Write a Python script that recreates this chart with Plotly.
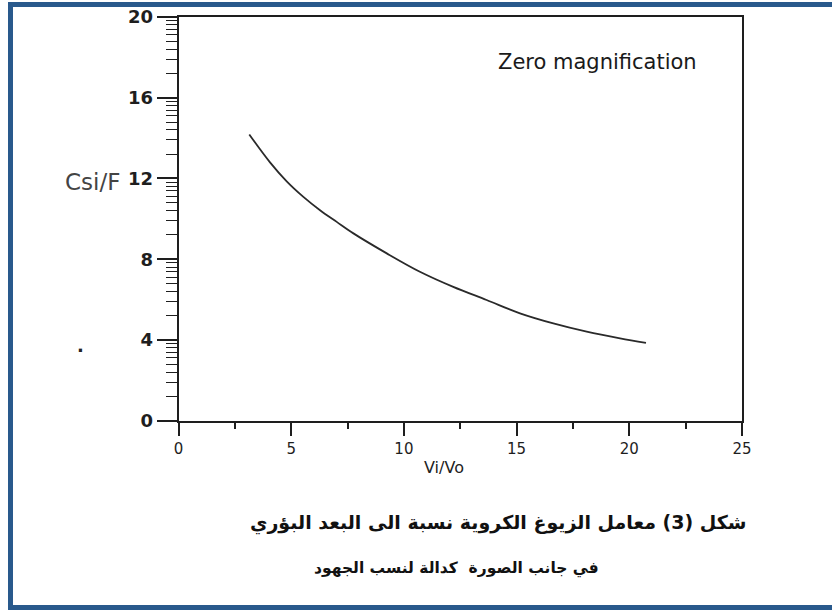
import math
import plotly.graph_objects as go

# Spherical aberration coefficient (image side, relative to focal length)
# versus the voltage ratio Vi/Vo, zero magnification case.
vi_vo = [3.14, 4.06, 4.80, 5.54, 6.28, 7.02, 7.76, 9.24, 10.71,
         12.19, 13.67, 15.15, 16.63, 18.11, 19.59, 20.74]
csi_f = [14.18, 12.80, 11.86, 11.09, 10.43, 9.85, 9.28, 8.29, 7.38,
         6.63, 5.98, 5.32, 4.82, 4.41, 4.08, 3.86]

x_major = [0, 5, 10, 15, 20, 25]
x_minor = [2.5, 7.5, 12.5, 17.5, 22.5]
y_major = [0, 4, 8, 12, 16, 20]
# log-style minor ticks inside each 4-unit interval
y_minor = [b + 4 * math.log10(k) for b in y_major[:-1] for k in range(2, 10)]

caption_1 = "شكل (3) معامل الزيوغ الكروية نسبة الى البعد البؤري"
caption_2 = "في جانب الصورة  كدالة لنسب الجهود"

W, H = 832, 610


def px(x):
    return x / W


def py(y):
    return 1 - y / H


AX = "#1e1e1e"
FRAME = "#29598C"

fig = go.Figure()
fig.add_trace(go.Scatter(
    x=vi_vo, y=csi_f, mode="lines",
    line=dict(color="#2a2a2a", width=1.8, shape="spline", smoothing=1.0),
    hoverinfo="skip",
))


def frame_line(x0, y0, x1, y1):
    return dict(type="line", xref="paper", yref="paper",
                x0=px(x0), y0=py(y0), x1=px(x1), y1=py(y1),
                line=dict(color=FRAME, width=5))


fig.update_layout(
    width=W, height=H,
    margin=dict(l=0, r=0, t=0, b=0, pad=0, autoexpand=False),
    paper_bgcolor="white", plot_bgcolor="white",
    showlegend=False,
    xaxis=dict(
        domain=[px(178.5), px(742)], range=[0, 25], automargin=False,
        tickmode="array", tickvals=x_major,
        ticks="outside", ticklen=14, tickwidth=1.5, tickcolor=AX,
        minor=dict(tickmode="array", tickvals=x_minor, ticks="outside",
                   ticklen=7, tickwidth=1.5, tickcolor=AX),
        showline=True, linecolor=AX, linewidth=1.5, mirror=True,
        showgrid=False, zeroline=False,
        tickfont=dict(family="DejaVu Sans", size=15, color=AX),
    ),
    yaxis=dict(
        domain=[py(420.7), py(17)], range=[0, 20], automargin=False,
        tickmode="array", tickvals=y_major,
        ticks="outside", ticklen=20, tickwidth=1.5, tickcolor=AX,
        minor=dict(tickmode="array", tickvals=y_minor, ticks="outside",
                   ticklen=11, tickwidth=1, tickcolor=AX),
        showline=True, linecolor=AX, linewidth=1.8, mirror=True,
        showgrid=False, zeroline=False,
        tickfont=dict(family="DejaVu Sans", size=18, color=AX, weight="bold"),
    ),
    # page frame: top, left and bottom edges
    shapes=[
        frame_line(8, 4.5, 832, 4.5),
        frame_line(10.5, 2, 10.5, 610),
        frame_line(8, 607.5, 832, 607.5),
    ],
)

ann = [
    dict(text="Zero magnification", x=px(597), y=py(62),
         font=dict(family="DejaVu Sans", size=21, color="#1a1a1a")),
    dict(text="Csi/F", x=px(122), y=py(182), xanchor="right",
         font=dict(family="DejaVu Sans", size=23, color="#444444")),
    dict(text="<b>.</b>", x=px(80), y=py(345),
         font=dict(family="DejaVu Sans", size=18, color="#222222")),
    dict(text="Vi/Vo", x=px(444), y=py(467),
         font=dict(family="DejaVu Sans", size=16, color="#222222")),
    dict(text="<b>" + caption_1 + "</b>", x=px(498), y=py(523),
         font=dict(family="DejaVu Sans", size=19, color="#111111")),
    dict(text="<b>" + caption_2 + "</b>", x=px(456), y=py(568),
         font=dict(family="DejaVu Sans", size=15.5, color="#111111")),
]
for a in ann:
    a.setdefault("xanchor", "center")
    a.update(xref="paper", yref="paper", yanchor="middle", showarrow=False)
fig.update_layout(annotations=ann)

fig.write_html("out.html")
